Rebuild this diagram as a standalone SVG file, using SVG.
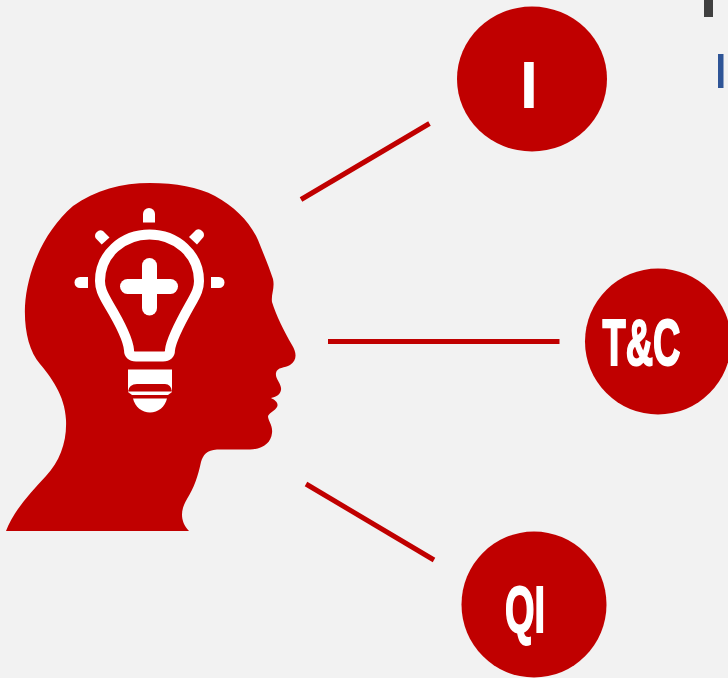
<svg xmlns="http://www.w3.org/2000/svg" width="728" height="678" viewBox="0 0 728 678">
<style>
.red{fill:#c00000}
.wht{fill:#fff}
.lbl{fill:#fff;stroke:#fff;stroke-width:2px;stroke-linejoin:miter;font-family:"Liberation Sans",Arial,sans-serif;font-weight:700;font-size:64px}
.conn{stroke:#c00000;stroke-width:5;fill:none}
</style>
<rect width="728" height="678" fill="#f2f2f2"/>
<g id="edge-marks">
<rect x="704" y="0" width="9" height="17" fill="#404040"/>
<rect x="718" y="54" width="5.500" height="34" fill="#2f5597"/>
</g>
<g id="connectors">
<line class="conn" x1="301" y1="199.500" x2="429.500" y2="123.500"/>
<line class="conn" x1="328" y1="341.500" x2="559.500" y2="341.500"/>
<line class="conn" x1="306" y1="484" x2="434" y2="560"/>
</g>
<g id="head">
<path class="red" d="M6 531 C13 512 29 494 46 476 C60 461 67 442 66 420 C65 395 50 376 40 364 C29 351 24 330 25 306 C27 272 43 232 73 206 C95 190 122 183 150 183 C176 183 198 187 215 196 C235 207 250 222 258 240 C264 255 269 267 273 279 C275 288 271 294 272 302 C276 315 284 331 292 345 C297 353 297 361 290 365 C285 368 277 367 276 373 C275 379 282 384 281 390 C280 395 276 397 271 398 C275 400 279 403 277 407 C275 411 270 412 268 416 C268 421 273 425 272 433 C271 443 263 449 250 449.500 L217 449.500 C207 450 203 455 201 462 C198 476 194 488 187 499 C181 509 179 520 189 531 Z"/>
<g id="bulb">
<path d="M129 350 Q129 356.500 136 356.500 L163 356.500 Q170 356.500 170 350 C171 340 181 321 190 305 C197 293 199 288 199 281 C199 254 176 234.500 149.500 234.500 C123 234.500 100 254 100 281 C100 288 102 293 109 305 C118 320 128 338 129 350 Z" fill="none" stroke="#fff" stroke-width="10" stroke-linejoin="round"/>
<rect class="wht" x="120" y="279" width="58" height="15" rx="7.500"/>
<rect class="wht" x="142" y="258" width="15" height="57.500" rx="7.500"/>
<path class="wht" d="M143 222.500 V214 A6 6 0 0 1 155 214 V222.500 Z"/>
<path class="wht" d="M88 277 H80 A5.500 5.500 0 0 0 80 288 H88 Z"/>
<path class="wht" d="M211 277 H219 A5.500 5.500 0 0 1 219 288 H211 Z"/>
<path class="wht" d="M101.700 244.500 L109.500 237.500 L103 231 A5.500 5.500 0 0 0 95.500 238 Z"/>
<path class="wht" d="M197 244.500 L189 237 L196 230 A5.500 5.500 0 0 1 203.500 237 Z"/>
<path class="wht" d="M128 369.500 H172 V392 L168 395 H132 L128 392 Z"/>
<path class="red" d="M128 391.500 Q129 384 137 384 H165 Q171 384 172 391.500 Z"/>
<path class="wht" d="M133 398.500 H167 C165 407 158 412.500 150 412.500 C142 412.500 135 407 133 398.500 Z"/>
</g>
</g>
<g id="node-i">
<ellipse class="red" cx="532" cy="79" rx="75" ry="72.500"/>
<text class="lbl" x="519.800" y="108" style="font-size:66px;stroke:none">I</text>
</g>
<g id="node-tc">
<ellipse class="red" cx="658" cy="341.500" rx="73" ry="73"/>
<text class="lbl" x="602.500" y="365" textLength="78" lengthAdjust="spacingAndGlyphs">T&amp;C</text>
</g>
<g id="node-qi">
<ellipse class="red" cx="534" cy="604.500" rx="72.500" ry="73"/>
<text class="lbl" x="505" y="632" textLength="40" lengthAdjust="spacingAndGlyphs">QI</text>
</g>
</svg>
